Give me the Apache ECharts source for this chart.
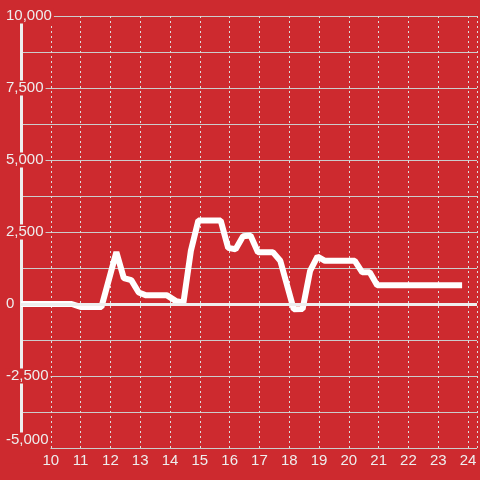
<!DOCTYPE html>
<html>
<head>
<meta charset="utf-8">
<script src="https://cdn.jsdelivr.net/npm/echarts@6/dist/echarts.min.js"></script>
<style>
  html, body { margin: 0; padding: 0; background: #cd2a2f; }
  #chart { width: 480px; height: 480px; }
</style>
</head>
<body>
<div id="chart"></div>
<script>
// hour of day and value
const hours = [9.0, 10.7, 11.0, 11.7, 12.2, 12.45, 12.7, 12.95, 13.2, 13.9, 14.2, 14.45, 14.7, 14.95,
  15.7, 15.95, 16.2, 16.45, 16.7, 16.95, 17.45, 17.7, 18.15, 18.45, 18.7, 18.95, 19.2, 20.2,
  20.45, 20.7, 20.95, 23.8];
const values = [0, 0, -100, -100, 1800, 900, 830, 400, 300, 300, 100, 50, 1850, 2900,
  2900, 1950, 1900, 2350, 2380, 1800, 1800, 1500, -180, -170, 1150, 1650, 1500, 1500,
  1100, 1100, 650, 650];
const xTicks = [10, 11, 12, 13, 14, 15, 16, 17, 18, 19, 20, 21, 22, 23, 24];
const yTicks = [-5000, -2500, 0, 2500, 5000, 7500, 10000];

const bg = '#cd2a2f';
const chart = echarts.init(document.getElementById('chart'));

const option = {
  backgroundColor: bg,
  animation: false,
  grid: { left: 21, right: 0, top: 16, bottom: 32, containLabel: false },
  xAxis: {
    type: 'value',
    min: 9,
    max: 24.3,
    interval: 1,
    axisLine: { show: false },
    axisTick: { show: false },
    axisLabel: {
      color: '#eeeeee',
      fontSize: 15,
      fontFamily: 'Liberation Sans',
      margin: 5,
      showMinLabel: false,
      formatter: v => xTicks.includes(v) ? String(v) : ''
    },
    splitLine: { show: true, lineStyle: { color: '#dddddd', width: 1, type: [2, 3] } }
  },
  yAxis: {
    type: 'value',
    min: yTicks[0],
    max: yTicks[yTicks.length - 1],
    interval: 2500,
    axisLine: { show: true, lineStyle: { color: '#eeeeee', width: 3 } },
    axisTick: { show: false },
    axisLabel: {
      inside: true,
      margin: -16,
      color: '#eeeeee',
      fontSize: 15,
      fontFamily: 'Liberation Sans',
      backgroundColor: bg,
      padding: [0, 2, 0, 1],
      // lowest label sits above its line, as in the picture
      formatter: v => v === yTicks[0] ? '{low|' + v.toLocaleString('en-US') + '}' : v.toLocaleString('en-US'),
      rich: {
        low: { color: '#eeeeee', fontSize: 15, fontFamily: 'Liberation Sans', padding: [0, 0, 16, 0] }
      }
    },
    splitLine: { show: true, lineStyle: { color: '#cccccc', width: 1 } },
    minorTick: { show: false, splitNumber: 2 },
    minorSplitLine: { show: true, lineStyle: { color: '#cccccc', width: 1 } }
  },
  series: [{
    type: 'line',
    data: hours.map((h, i) => [h, values[i]]),
    showSymbol: false,
    lineStyle: { color: '#ffffff', width: 6 },
    itemStyle: { color: '#ffffff' },
    markLine: {
      silent: true,
      symbol: 'none',
      label: { show: false },
      lineStyle: { color: '#eeeeee', width: 3, type: 'solid' },
      data: [{ yAxis: 0 }]
    },
    z: 3
  }]
};
chart.setOption(option);
</script>
</body>
</html>
